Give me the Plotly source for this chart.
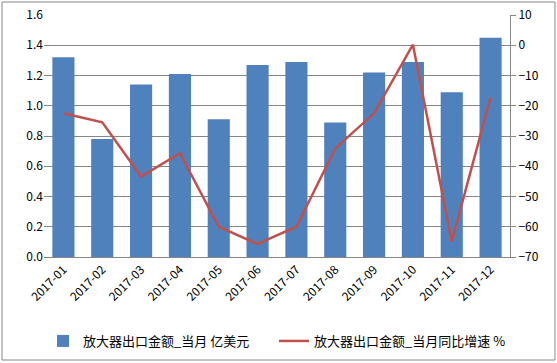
import plotly.graph_objects as go

months = ["2017-01", "2017-02", "2017-03", "2017-04", "2017-05", "2017-06",
          "2017-07", "2017-08", "2017-09", "2017-10", "2017-11", "2017-12"]
export_value = [1.32, 0.78, 1.14, 1.21, 0.91, 1.27, 1.29, 0.89, 1.22, 1.29, 1.09, 1.45]
yoy_growth = [-22.5, -25.5, -43.4, -35.7, -60.0, -65.7, -60.0, -34.1, -22.5, 0.2, -64.9, -17.2]

bar_name = "放大器出口金额_当月 亿美元"
line_name = "放大器出口金额_当月同比增速 %"

font_family = "Noto Sans CJK SC, DejaVu Sans, sans-serif"

fig = go.Figure()
fig.add_trace(go.Bar(x=months, y=export_value, name=bar_name,
                     marker=dict(color="#4F81BD", line=dict(width=0)), yaxis="y"))
fig.add_trace(go.Scatter(x=months, y=yoy_growth, name=line_name, mode="lines",
                         line=dict(color="#C0504D", width=2.5), yaxis="y2"))

W, H = 557, 363
l, r, t, b = 44, 47, 15, 106
pw, ph = W - l - r, H - t - b

def px(x):
    return (x - l) / pw

def py(y):
    return (H - b - y) / ph

fig.update_layout(
    width=W, height=H,
    margin=dict(l=l, r=r, t=t, b=b, autoexpand=False),
    paper_bgcolor="white", plot_bgcolor="white",
    font=dict(family=font_family, size=12, color="#000000"),
    bargap=0.43,
    showlegend=True,
    legend=dict(orientation="h", x=px(43), y=py(341), xanchor="left", yanchor="middle",
                entrywidth=186, entrywidthmode="pixels",
                font=dict(size=13), bgcolor="rgba(0,0,0,0)"),
    xaxis=dict(type="category", tickangle=-45, showgrid=False, automargin=False,
               showline=True, linecolor="#868686", linewidth=1,
               ticks="outside", ticklen=0, tickfont=dict(size=12)),
    yaxis=dict(range=[0, 1.6], dtick=0.2, tickformat=".1f", automargin=False,
               showgrid=True, gridcolor="#868686", gridwidth=1,
               zeroline=False, showline=False, ticks="", tickfont=dict(size=12)),
    yaxis2=dict(range=[-70, 10], dtick=10, overlaying="y", side="right", automargin=False,
                showgrid=False, zeroline=False, showline=True, linecolor="#868686",
                ticks="outside", ticklen=5, tickcolor="#868686", tickfont=dict(size=12)),
    shapes=[dict(type="rect", xref="paper", yref="paper",
                 x0=px(2), x1=px(555), y0=py(360), y1=py(2),
                 line=dict(color="#868686", width=1), fillcolor="rgba(0,0,0,0)",
                 layer="below")],
)

fig.write_html("out.html")
